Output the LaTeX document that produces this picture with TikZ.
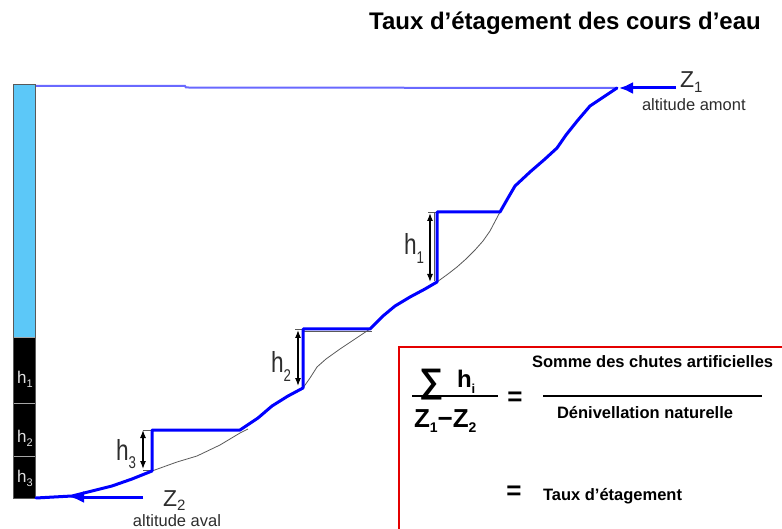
\documentclass[tikz,border=0pt]{standalone}
\usepackage{fontspec}
\setmainfont{Liberation Sans}
\usetikzlibrary{arrows.meta}
\definecolor{riv}{RGB}{0,0,255}
\definecolor{topline}{RGB}{105,105,255}
\definecolor{barblue}{RGB}{92,200,248}
\definecolor{boxred}{RGB}{228,0,0}
\definecolor{txtgray}{RGB}{45,45,45}
\definecolor{natgray}{RGB}{90,90,90}
\newcommand{\fsz}[1]{\fontsize{#1}{#1}\selectfont}
\newcommand{\hlab}[1]{\scalebox{0.78}[1]{\fsz{29}h\raisebox{-0.3em}{\fsz{17}#1}}}
\tikzset{
  lbl/.style={inner sep=0pt, outer sep=0pt, anchor=base west},
  river/.style={riv, line width=3pt, line join=round, line cap=round},
  nat/.style={natgray, line width=0.8pt, line join=round},
  dimarrow/.style={{Latex[length=8pt,width=6pt]}-{Latex[length=8pt,width=6pt]}, line width=1.2pt, black},
  zarrow/.style={-{Latex[length=14pt,width=12pt]}, riv, line width=3pt},
  barlbl/.style={inner sep=0pt, anchor=base west, text=black!12, font=\fsz{17}},
  seg/.style={fill=black, draw=black!65, line width=1pt},
}
\begin{document}
\begin{tikzpicture}[x=1pt,y=-1pt]
\useasboundingbox (0,0) rectangle (782,529);
\fill[white] (0,0) rectangle (782,529);
% title
\node[inner sep=0pt, anchor=base] (title) at (565,30) {\fsz{24}\bfseries Taux d’étagement des cours d’eau};
% bar
\draw[fill=barblue, draw=black!65, line width=1pt] (13.5,85) rectangle (35.5,338);
\draw[seg] (13.5,338) rectangle (35.5,403);
\draw[seg] (13.5,403) rectangle (35.5,456);
\draw[seg] (13.5,456) rectangle (35.5,498);
\draw[black!35, line width=1pt] (14,338) -- (35,338) (14,403) -- (35,403) (14,456) -- (35,456);
\node[barlbl] (b1) at (17,383) {h\raisebox{-0.25em}{\fsz{11}1}};
\node[barlbl] (b2) at (17,442) {h\raisebox{-0.25em}{\fsz{11}2}};
\node[barlbl] (b3) at (17,482) {h\raisebox{-0.25em}{\fsz{11}3}};
% key points
\coordinate (top) at (617,88);
\coordinate (s1a) at (500,212);
\coordinate (s1b) at (437,212);
\coordinate (s1c) at (437,282);
\coordinate (s2a) at (370,329);
\coordinate (s2b) at (303,329);
\coordinate (s2c) at (303,388);
\coordinate (s3a) at (240,430);
\coordinate (s3b) at (152,430);
\coordinate (s3c) at (152,471);
\coordinate (bot) at (36,498);
% top line
\draw[topline, line width=2pt] (36,86) -- (185,86) -- (186,87.5) -- (top);
% natural profile under the steps
\draw[nat] (s1a) -- (490,231) -- (483,241) -- (475,250) -- (466,259) -- (457,267) -- (448,274) -- (s1c);
\draw[nat] (434.5,213) -- (434.5,281);
\draw[nat] (s2a) -- (355,339) -- (340,349) -- (326,359) -- (317,367) -- (310,378) -- (s2c);
\draw[nat] (303,331.5) -- (372,331.5);
\draw[nat] (248,429) -- (240,433) -- (230,439) -- (220,445) -- (197,456) -- (177,462) -- (s3c);
\draw[nat] (143,430) -- (152,430);
\draw[nat] (143,470) -- (152,470);
\draw[nat] (295,329) -- (303,329);
\draw[nat] (428,212) -- (437,212);
% river profile
\draw[river] (top) -- (605,96) -- (590,106) -- (578,120) -- (566,135) -- (557,148) -- (545,159)
  -- (530,172) -- (515,186) -- (508,198) -- (s1a) -- (s1b) -- (s1c)
  -- (425,289) -- (410,297) -- (395,306) -- (383,316) -- (s2a) -- (s2b) -- (s2c)
  -- (288,396) -- (272,406) -- (258,418) -- (s3a) -- (s3b) -- (s3c)
  -- (132,479) -- (112,486) -- (92,491) -- (72,496) -- (bot);
% Z arrows
\coordinate (z1s) at (676,88);
\coordinate (z2s) at (143,497);
\coordinate (z2e) at (70,497);
\draw[zarrow] (z1s) -- ([xshift=2pt]top);
\draw[zarrow] (z2s) -- (z2e);
\node[lbl, text=txtgray] (z1) at (680,88) {\fsz{23}Z\raisebox{-0.2em}{\fsz{15}1}};
\node[lbl, text=txtgray] (am) at (642,111) {\fsz{16.5}altitude amont};
\node[lbl, text=txtgray] (z2) at (163,506) {\fsz{23}Z\raisebox{-0.2em}{\fsz{15}2}};
\node[inner sep=0pt, anchor=base, text=txtgray] (av) at (177,526) {\fsz{16.5}altitude aval};
% dimension arrows
\coordinate (d1t) at (430,213); \coordinate (d1b) at (430,282);
\coordinate (d2t) at (298,330); \coordinate (d2b) at (298,386);
\coordinate (d3t) at (143,430); \coordinate (d3b) at (143,469);
\draw[dimarrow] (d1t) -- (d1b);
\draw[dimarrow] (d2t) -- (d2b);
\draw[dimarrow] (d3t) -- (d3b);
\node[lbl, text=txtgray] (h1) at (404,255) {\hlab{1}};
\node[lbl, text=txtgray] (h2) at (271,373) {\hlab{2}};
\node[lbl, text=txtgray] (h3) at (116,460) {\hlab{3}};
% red box
\draw[boxred, line width=2pt] (790,347) -- (398.5,347) -- (398.5,540);
% formula
\node[lbl] (sig) at (419,392) {\fsz{34}\bfseries ∑};
\node[lbl] (hi) at (457,387) {\fsz{24}\bfseries h\raisebox{-0.25em}{\fsz{13}i}};
\draw[black, line width=1.8pt] (412,396) -- (498,396);
\node[lbl] (zz) at (414,427) {\fsz{26}\bfseries Z\raisebox{-0.2em}{\fsz{14}1}−Z\raisebox{-0.2em}{\fsz{14}2}};
\node[inner sep=0pt] (eq1) at (515,399) {\fsz{26}\bfseries =};
\node[lbl] (num) at (532,367) {\fsz{16.5}\bfseries Somme des chutes artificielles};
\draw[black, line width=1.8pt] (543,396) -- (762,396);
\node[lbl] (den) at (557,418) {\fsz{16.5}\bfseries Dénivellation naturelle};
\node[inner sep=0pt] (eq2) at (514,493) {\fsz{26}\bfseries =};
\node[lbl] (taux) at (543,500) {\fsz{16.5}\bfseries Taux d’étagement};
\end{tikzpicture}
\end{document}
